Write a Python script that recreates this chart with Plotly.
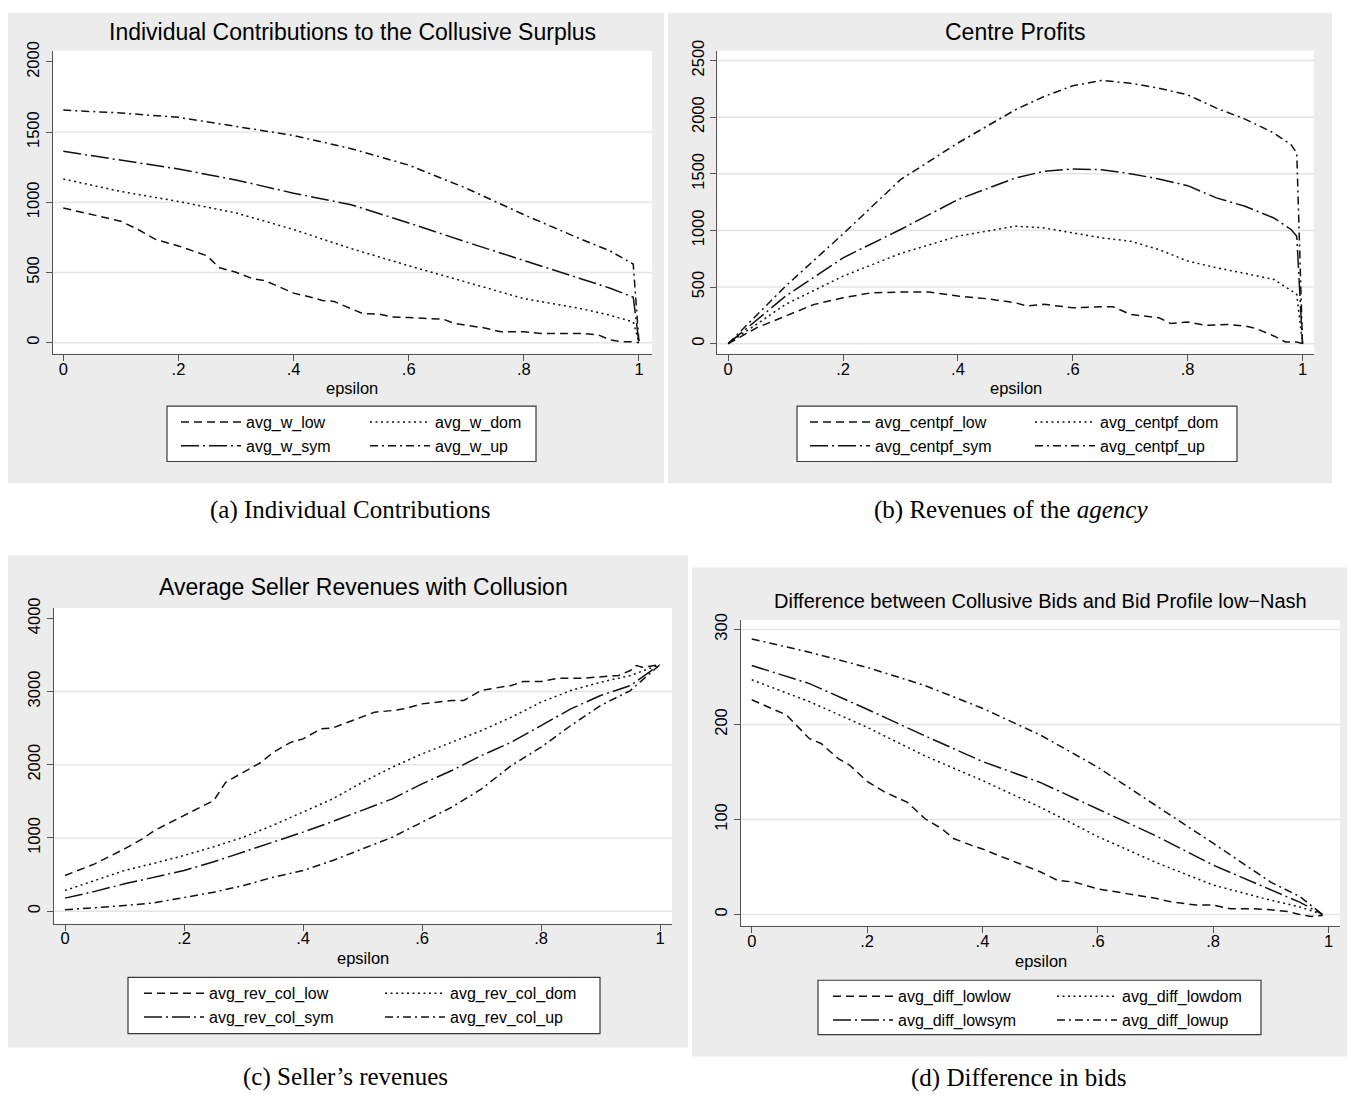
import plotly.graph_objects as go

W, H = 1355, 1097
OFF = 8  # page body margin of the html page

# ---------------- Panel (a): Individual Contributions ----------------
eps_a = [0, .1, .2, .3, .4, .5, .6, .7, .8, .9, .95, .99, 1.0]
w_up = [1657, 1636, 1605, 1540, 1476, 1382, 1265, 1100, 912, 736, 653, 560, 0]
w_sym = [1363, 1300, 1237, 1159, 1065, 983, 853, 717, 583, 454, 388, 324, 0]
w_dom = [1166, 1077, 1006, 924, 806, 670, 548, 430, 314, 242, 195, 148, 0]
eps_a_low = [0, .05, .1, .13, .16, .2, .25, .27, .3, .33, .35, .37, .4, .43, .45, .47, .5, .52,
             .55, .57, .6, .63, .66, .68, .7, .73, .76, .8, .83, .86, .9, .93, .95, .97, .99, 1.0]
w_low = [959, 912, 865, 806, 736, 689, 618, 536, 501, 454, 442, 407, 353, 324, 301, 294, 242, 207,
         202, 183, 179, 172, 167, 136, 125, 106, 78, 78, 66, 66, 66, 54, 19, 7, 7, 0]

# ---------------- Panel (b): Centre Profits ----------------
eps_b = [0, .1, .2, .3, .4, .5, .55, .6, .65, .7, .75, .8, .85, .9, .95, .98, .99, 1.0]
centpf_up = [0, 508, 969, 1448, 1772, 2065, 2183, 2277, 2324, 2300, 2256, 2197, 2080, 1983, 1860, 1757, 1683, 0]
centpf_sym = [0, 420, 758, 1008, 1272, 1463, 1522, 1542, 1536, 1501, 1454, 1395, 1287, 1213, 1110, 1008, 949, 0]
centpf_dom = [0, 347, 596, 796, 949, 1037, 1022, 978, 934, 905, 831, 729, 670, 620, 567, 470, 435, 0]
eps_b_low = [0, .05, .1, .15, .2, .25, .3, .35, .4, .45, .5, .52, .55, .6, .65, .67, .7, .75, .77,
             .8, .83, .87, .9, .92, .95, .97, .99, 1.0]
centpf_low = [0, 141, 244, 347, 405, 450, 455, 455, 420, 397, 361, 332, 347, 317, 326, 326, 258, 229, 179,
              191, 162, 170, 156, 132, 68, 15, 15, 0]

# ---------------- Panel (c): Seller revenues ----------------
eps_c = [0, .05, .1, .15, .2, .25, .3, .35, .4, .45, .5, .55, .6, .65, .7, .75, .8, .85, .9, .95, 1.0]
rev_up = [18, 45, 77, 114, 191, 259, 350, 464, 555, 692, 851, 1010, 1215, 1420, 1670, 1989, 2239, 2535, 2808, 3013, 3368]
rev_sym = [178, 270, 373, 460, 555, 675, 806, 940, 1079, 1225, 1375, 1534, 1739, 1921, 2126, 2308, 2535, 2763, 2945, 3082, 3368]
rev_dom = [282, 415, 555, 655, 760, 880, 1010, 1175, 1352, 1534, 1761, 1966, 2148, 2308, 2467, 2649, 2854, 3013, 3127, 3218, 3368]
eps_c_low = [0, .05, .1, .13, .15, .2, .25, .27, .3, .33, .35, .38, .4, .43, .45, .5, .52, .55, .57, .6,
             .65, .67, .7, .75, .77, .8, .83, .87, .9, .93, .95, .96, .97, .99, 1.0]
rev_low = [487, 646, 851, 988, 1101, 1306, 1511, 1761, 1898, 2035, 2171, 2308, 2353, 2490, 2503, 2649, 2717, 2740, 2763, 2831,
           2877, 2877, 3017, 3082, 3136, 3136, 3182, 3182, 3195, 3218, 3286, 3354, 3330, 3354, 3368]

# ---------------- Panel (d): Difference in bids ----------------
eps_d = [0, .1, .2, .3, .4, .5, .6, .7, .8, .9, .95, .99]
diff_up = [290, 276, 260, 241, 217, 189, 155, 115, 75, 34, 19, 0]
diff_sym = [262, 243, 216, 188, 161, 139, 111, 83, 52, 26, 13, 0]
diff_dom = [247, 224, 197, 167, 141, 113, 82, 55, 31, 15, 8, 0]
eps_d_low = [0, .03, .06, .1, .12, .15, .17, .2, .23, .27, .3, .33, .35, .38, .4, .42, .45, .48, .5, .53,
             .56, .6, .63, .66, .7, .73, .77, .8, .83, .87, .9, .93, .95, .97, .99]
diff_low = [226, 218, 210, 185, 180, 164, 157, 140, 129, 118, 101, 90, 80, 73, 69, 64, 57, 50, 45, 36,
            34, 27, 24, 21, 17, 13, 10, 10, 6, 6, 5, 3, 0, -2, -1]

x_tickvals = [0, .2, .4, .6, .8, 1]
x_ticktext = ["0", ".2", ".4", ".6", ".8", "1"]

SANS = "Liberation Sans, Arial, Helvetica, sans-serif"
SERIF = "Liberation Serif, Times New Roman, serif"
DASH = {"low": "8px,5px", "dom": "2px,3.5px", "sym": "18px,4px,2px,4px", "up": "8px,4px,2px,4px"}
LINE_COLOR = "#111111"
AXIS_COLOR = "#555555"
GRID_COLOR = "#e4e4e4"
PANEL_BG = "#ececec"
ITEMW = 60


def fx(px):
    return (px - OFF) / W


def fy(py):
    return 1 - (py - OFF) / H


panels = [
    dict(key="", title="Individual Contributions to the Collusive Surplus", tsize=23, ty=21,
         xdom=(52.7, 652), ydom=(40, 346), xr=[-0.0184, 1.0226], yr=[-78, 2080],
         yt=[0, 500, 1000, 1500, 2000], grid=[0, 500, 1000, 1500], ey=381,
         bg=(4, 664, 2, 477), box=(167, 536, 399, 455), leg=(176, 365, 398),
         caption="(a) Individual Contributions", cap=(350, 504),
         series=[("avg_w_low", eps_a_low, w_low, "low", 0), ("avg_w_dom", eps_a, w_dom, "dom", 1),
                 ("avg_w_sym", eps_a, w_sym, "sym", 0), ("avg_w_up", eps_a, w_up, "up", 1)]),
    dict(key="2", title="Centre Profits", tsize=23, ty=21,
         xdom=(717.3, 1314), ydom=(40, 346), xr=[-0.019, 1.02], yr=[-88, 2587],
         yt=[0, 500, 1000, 1500, 2000, 2500], grid=[0, 500, 1000, 1500, 2000, 2500], ey=381,
         bg=(668, 1332, 2, 477), box=(797, 1237, 399, 455), leg=(805, 1030, 398),
         caption="(b) Revenues of the <i>agency</i>", cap=(1011, 504),
         series=[("avg_centpf_low", eps_b_low, centpf_low, "low", 0), ("avg_centpf_dom", eps_b, centpf_dom, "dom", 1),
                 ("avg_centpf_sym", eps_b, centpf_sym, "sym", 0), ("avg_centpf_up", eps_b, centpf_up, "up", 1)]),
    dict(key="3", title="Average Seller Revenues with Collusion", tsize=23, ty=582,
         xdom=(54, 672), ydom=(603, 921.7), xr=[-0.0185, 1.02], yr=[-169, 4140],
         yt=[0, 1000, 2000, 3000, 4000], grid=[0, 1000, 2000, 3000], ey=957,
         bg=(4, 688, 550, 1047), box=(128, 600, 976, 1033), leg=(139, 380, 975),
         caption="(c) Seller’s revenues", cap=(345, 1077),
         series=[("avg_rev_col_low", eps_c_low, rev_low, "low", 0), ("avg_rev_col_dom", eps_c, rev_dom, "dom", 1),
                 ("avg_rev_col_sym", eps_c, rev_sym, "sym", 0), ("avg_rev_col_up", eps_c, rev_up, "up", 1)]),
    dict(key="4", title="Difference between Collusive Bids and Bid Profile low−Nash", tsize=20, ty=596,
         xdom=(741, 1340), ydom=(615, 924), xr=[-0.0187, 1.02], yr=[-11.9, 310],
         yt=[0, 100, 200, 300], grid=[0, 100, 200, 300], ey=960,
         bg=(692, 1355, 562, 1056), box=(818, 1261, 979, 1034), leg=(828, 1052, 978),
         caption="(d) Difference in bids", cap=(1018, 1078),
         series=[("avg_diff_lowlow", eps_d_low, diff_low, "low", 0), ("avg_diff_lowdom", eps_d, diff_dom, "dom", 1),
                 ("avg_diff_lowsym", eps_d, diff_sym, "sym", 0), ("avg_diff_lowup", eps_d, diff_up, "up", 1)]),
]

fig = go.Figure()
bg_shapes, white_shapes, grid_shapes, box_shapes = [], [], [], []
annotations = []
layout_update = {}
legend_idx = 1

for p in panels:
    k = p["key"]
    xa, ya = "x" + k, "y" + k
    leg_names = []
    for c in range(2):
        name = "legend" if legend_idx == 1 else "legend%d" % legend_idx
        legend_idx += 1
        leg_names.append(name)
        layout_update[name] = dict(
            x=fx(p["leg"][c]), y=fy(p["leg"][2]), xanchor="left", yanchor="top",
            bgcolor="rgba(0,0,0,0)", borderwidth=0, tracegroupgap=0, itemwidth=ITEMW,
            font=dict(family=SANS, size=16, color="#000"), orientation="v")
    for name, xs, ys, style, col in p["series"]:
        fig.add_trace(go.Scatter(
            x=xs, y=ys, name=name, mode="lines", xaxis=xa, yaxis=ya,
            legend=leg_names[col],
            line=dict(color=LINE_COLOR, width=1.5, dash=DASH[style])))

    axis_font = dict(family=SANS, size=16.5, color="#000")
    layout_update["xaxis" + k] = dict(
        domain=[fx(p["xdom"][0]), fx(p["xdom"][1])], range=p["xr"], anchor=ya,
        tickvals=x_tickvals, ticktext=x_ticktext, ticks="outside", ticklen=6, tickwidth=1.3,
        tickcolor=AXIS_COLOR, showline=True, linecolor=AXIS_COLOR, linewidth=1.3,
        showgrid=False, zeroline=False, tickfont=axis_font, ticklabelstandoff=-6)
    layout_update["yaxis" + k] = dict(
        domain=[fy(p["ydom"][1]), fy(p["ydom"][0])], range=p["yr"], anchor=xa,
        tickvals=p["yt"], ticktext=[str(v) for v in p["yt"]], ticks="outside", ticklen=6,
        tickwidth=1.3, tickcolor=AXIS_COLOR, showline=True, linecolor=AXIS_COLOR, linewidth=1.3,
        showgrid=False, zeroline=False, tickangle=-90, tickfont=axis_font)

    x0, x1, y0, y1 = p["bg"]
    bg_shapes.append(dict(type="rect", xref="paper", yref="paper", x0=fx(x0), x1=fx(x1),
                          y0=fy(y1), y1=fy(y0), fillcolor=PANEL_BG, line=dict(width=0), layer="below"))
    white_shapes.append(dict(type="rect", xref="paper", yref="paper",
                             x0=fx(p["xdom"][0]), x1=fx(p["xdom"][1]),
                             y0=fy(p["ydom"][1]), y1=fy(p["ydom"][0]),
                             fillcolor="white", line=dict(width=0), layer="below"))
    for g in p["grid"]:
        grid_shapes.append(dict(type="line", xref="paper", yref=ya,
                                x0=fx(p["xdom"][0]), x1=fx(p["xdom"][1]), y0=g, y1=g,
                                line=dict(color=GRID_COLOR, width=1.5), layer="below"))
    bx0, bx1, by0, by1 = p["box"]
    box_shapes.append(dict(type="rect", xref="paper", yref="paper", x0=fx(bx0), x1=fx(bx1),
                           y0=fy(by1), y1=fy(by0), fillcolor="white",
                           line=dict(color="#3a3a3a", width=1.2), layer="below"))

    xc = (p["xdom"][0] + p["xdom"][1]) / 2
    annotations.append(dict(text=p["title"], xref="paper", yref="paper", x=fx(xc), y=fy(p["ty"]),
                            xanchor="center", yanchor="middle", showarrow=False,
                            font=dict(family=SANS, size=p["tsize"], color="#000")))
    annotations.append(dict(text="epsilon", xref="paper", yref="paper", x=fx(xc), y=fy(p["ey"]),
                            xanchor="center", yanchor="middle", showarrow=False,
                            font=dict(family=SANS, size=16.5, color="#000")))
    annotations.append(dict(text=p["caption"], xref="paper", yref="paper", x=fx(p["cap"][0]),
                            y=fy(p["cap"][1]), xanchor="center", yanchor="middle", showarrow=False,
                            font=dict(family=SERIF, size=25, color="#000")))

fig.update_layout(
    width=W, height=H, margin=dict(l=0, r=0, t=0, b=0),
    paper_bgcolor="white", plot_bgcolor="white",
    shapes=bg_shapes + white_shapes + grid_shapes + box_shapes,
    annotations=annotations, showlegend=True, **layout_update)

fig.write_html("out.html")
